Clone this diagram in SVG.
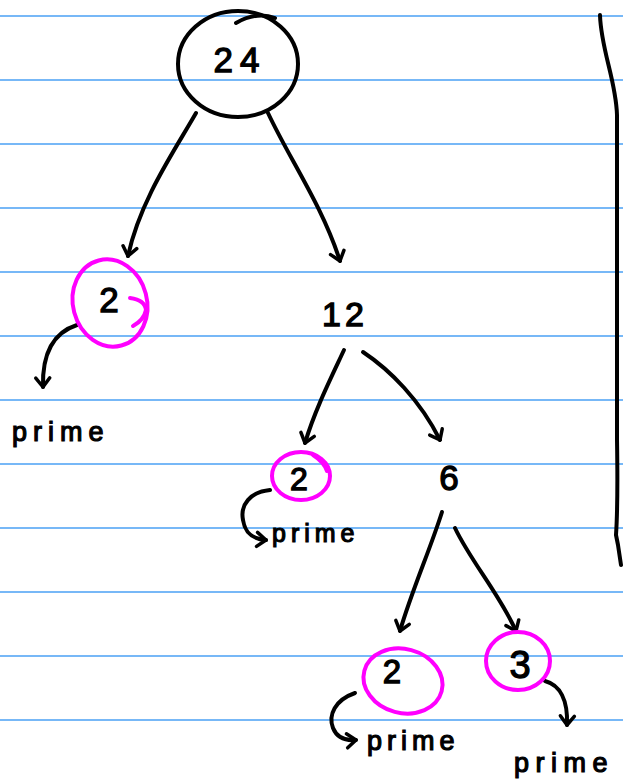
<svg xmlns="http://www.w3.org/2000/svg" width="623" height="779" viewBox="0 0 623 779">
<style>
.rule{stroke:#4aa0f5;stroke-width:1.5}
.ink{fill:none;stroke:#000;stroke-width:4;stroke-linecap:round;stroke-linejoin:round}
.pink{fill:none;stroke:#f0f;stroke-width:4;stroke-linecap:round;stroke-linejoin:round}
.num{font-family:"Liberation Sans",Arial,sans-serif;fill:#000;stroke:#000;stroke-width:1.3;text-anchor:middle}
.lbl{font-family:"Liberation Sans",Arial,sans-serif;fill:#000;stroke:#000;stroke-width:1.2}
</style>
<defs>
<marker id="ah" viewBox="-12 -10 16 20" markerWidth="16" markerHeight="20" refX="0" refY="0" orient="auto" markerUnits="userSpaceOnUse">
<path d="M-9,-7 L0,0 L-9,7" fill="none" stroke="#000" stroke-width="3.5" stroke-linecap="round" stroke-linejoin="round"/>
</marker>
</defs>
<rect width="623" height="779" fill="#fff"/>
<g id="paper">
<line class="rule" x1="0" y1="16" x2="623" y2="16"/>
<line class="rule" x1="0" y1="80" x2="623" y2="80"/>
<line class="rule" x1="0" y1="144" x2="623" y2="144"/>
<line class="rule" x1="0" y1="208" x2="623" y2="208"/>
<line class="rule" x1="0" y1="272" x2="623" y2="272"/>
<line class="rule" x1="0" y1="336" x2="623" y2="336"/>
<line class="rule" x1="0" y1="400" x2="623" y2="400"/>
<line class="rule" x1="0" y1="464" x2="623" y2="464"/>
<line class="rule" x1="0" y1="528" x2="623" y2="528"/>
<line class="rule" x1="0" y1="592" x2="623" y2="592"/>
<line class="rule" x1="0" y1="656" x2="623" y2="656"/>
<line class="rule" x1="0" y1="720" x2="623" y2="720"/>
<path class="ink" d="M600,15 C601,50 616,80 617,115 L617,440 C618,500 617,520 616,535 L618,545 L621,565"/>
</g>
<g id="connectors">
<path class="ink" marker-end="url(#ah)" d="M196,113 C175,150 140,200 128,256"/>
<path class="ink" marker-end="url(#ah)" d="M268,113 C290,160 322,205 340,261"/>
<path class="ink" marker-end="url(#ah)" d="M77,325 C55,332 42,350 43,387"/>
<path class="ink" marker-end="url(#ah)" d="M344,350 C330,380 315,410 305,443"/>
<path class="ink" marker-end="url(#ah)" d="M363,352 C390,370 420,400 440,440"/>
<path class="ink" marker-end="url(#ah)" d="M270,490 C250,492 240,505 243,520 C245,533 252,539 266,540"/>
<path class="ink" marker-end="url(#ah)" d="M442,512 C430,550 412,590 400,631"/>
<path class="ink" marker-end="url(#ah)" d="M455,528 C470,560 500,595 516,631"/>
<path class="ink" marker-end="url(#ah)" d="M355,693 C335,700 328,715 333,728 C337,738 345,741 356,740"/>
<path class="ink" marker-end="url(#ah)" d="M545,681 C560,685 568,700 567,725"/>
</g>
<g id="n24">
<ellipse class="ink" cx="238" cy="64" rx="60" ry="53"/>
<path class="ink" d="M236,23 C250,15 262,13 275,18"/>
<text class="num" x="240" y="72" font-size="35" letter-spacing="7">24</text>
</g>
<g id="n2a">
<ellipse class="pink" cx="110" cy="303" rx="37" ry="44" transform="rotate(-15 110 303)"/>
<path class="pink" d="M130,298 Q145,300 146,310 Q144,320 133,326"/>
<text class="num" x="109" y="312" font-size="35">2</text>
</g>
<g id="p1"><text class="lbl" x="12" y="441" font-size="27" letter-spacing="6">prime</text></g>
<g id="n12"><text class="num" x="345" y="326" font-size="34" letter-spacing="4">12</text></g>
<g id="n2b">
<ellipse class="pink" cx="301" cy="476" rx="29" ry="24"/>
<path class="pink" d="M313,455 Q324,462 327,471"/>
<text class="num" x="299" y="490" font-size="32">2</text>
</g>
<g id="p2"><text class="lbl" x="272" y="542" font-size="25" letter-spacing="5">prime</text></g>
<g id="n6"><text class="num" x="449" y="490" font-size="35">6</text></g>
<g id="n2c">
<ellipse class="pink" cx="403" cy="681" rx="40" ry="32" transform="rotate(15 403 681)"/>
<text class="num" x="392" y="683" font-size="33">2</text>
</g>
<g id="p3"><text class="lbl" x="367" y="750" font-size="27" letter-spacing="5">prime</text></g>
<g id="n3">
<ellipse class="pink" cx="518" cy="661" rx="32" ry="29"/>
<text class="num" x="520" y="678" font-size="38">3</text>
</g>
<g id="p4"><text class="lbl" x="514" y="772" font-size="27" letter-spacing="6.5">prime</text></g>
</svg>
